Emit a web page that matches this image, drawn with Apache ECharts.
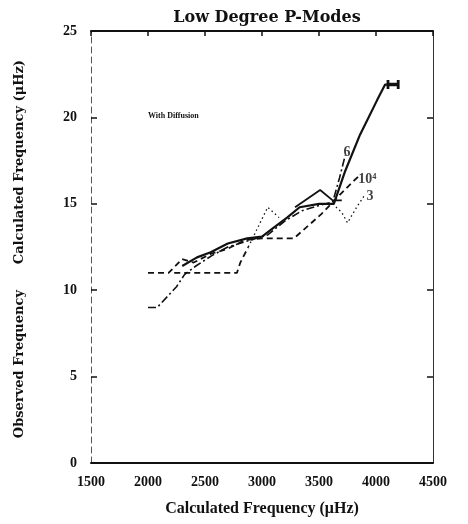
<!DOCTYPE html>
<html><head><meta charset="utf-8">
<script src="https://cdn.jsdelivr.net/npm/echarts@6/dist/echarts.min.js"></script>
<style>html,body{margin:0;padding:0;background:#fff}#c{width:468px;height:524px}</style>
</head><body><div id="c"></div>
<script>
// ---- data ----
const xTickLabels = ['1500','2000','2500','3000','3500','4000','4500'];
const yTickLabels = ['0','5','10','15','20','25'];

// thick solid curve ending with bar marker
const solidMain = [[2300,11.4],[2430,11.9],[2550,12.2],[2700,12.7],[2870,13.0],[3000,13.1],[3100,13.6],[3220,14.2],[3330,14.8],[3500,15.0],[3630,15.0],[3730,16.9],[3860,19.0],[4010,21.0],[4080,21.9],[4150,21.9]];
// thin solid with triangular peak
const solidPeak = [[3290,14.8],[3510,15.8],[3620,15.2],[3700,15.2]];
// dash-dot curve ending at "6"
const dashDot6 = [[2000,9.0],[2080,9.0],[2250,10.2],[2320,10.9],[2420,11.4],[2560,12.0],[2700,12.5],[2900,12.9],[3050,13.2],[3200,14.0],[3350,14.6],[3500,14.9],[3620,15.1],[3680,16.5],[3730,17.8]];
// dashed curve ending near "10^4"
const dashed104 = [[2000,11.0],[2180,11.0],[2300,11.8],[2400,11.6],[2550,12.1],[2700,12.4],[2850,12.9],[3000,13.0],[3150,13.0],[3280,13.0],[3520,14.4],[3650,15.3],[3800,16.3],[3850,16.6]];
// dashed step at 11
const stepDash = [[2230,11.0],[2500,11.0],[2780,11.0],[2810,11.6],[2880,12.5]];
// dotted continuation
const dottedMid = [[2880,12.5],[3050,14.8],[3150,14.2]];
// dotted tail ending at "3"
const dotted3 = [[3620,15.0],[3700,14.5],[3750,13.9],[3830,14.8],[3900,15.5]];

const curveLabels = ['6','10⁴','3'];
const curveLabelPos = [[3745,18.0],[3925,16.4],[3947,15.4]];

// ---- chart ----
const chart = echarts.init(document.getElementById('c'));
const FONT = 'Liberation Serif';
const ink = '#111';
function line(data, type, width){
  return {type:'line', data:data, symbol:'none', silent:true,
    lineStyle:{color:ink, width:width, type:type}, z:3};
}
const mainSeries = line(solidMain,'solid',2.2);
mainSeries.data = solidMain.map((p,i)=> i===solidMain.length-1 ?
  {value:p, symbol:'path://M0,0h3v3h8v-3h3v10h-3v-3h-8v3h-3z', symbolSize:[13,9], itemStyle:{color:ink}} : p);

chart.setOption({
  backgroundColor:'#fff',
  animation:false,
  grid:{left:91, right:35, top:31, bottom:61},
  title:{text:'Low Degree P-Modes', left:262, top:5, textAlign:'center',
    textStyle:{fontFamily:'DejaVu Serif', fontWeight:'bold', fontSize:16, color:ink}},
  xAxis:[{type:'value', min:1500, max:4500, interval:500, position:'bottom',
      axisLine:{lineStyle:{color:ink, width:2}}, axisTick:{show:false}, splitLine:{show:false},
      axisLabel:{margin:12, fontFamily:FONT, fontWeight:'bold', fontSize:14, color:ink,
        formatter:v=>xTickLabels[Math.round((v-1500)/500)]},
      name:'Calculated Frequency (μHz)', nameLocation:'middle', nameGap:38,
      nameTextStyle:{fontFamily:FONT, fontWeight:'bold', fontSize:16, color:ink}},
    {type:'value', min:1500, max:4500, interval:500, position:'top',
      axisLine:{onZero:false, lineStyle:{color:ink, width:2}},
      axisTick:{inside:true, length:5, lineStyle:{color:ink, width:1.5}},
      axisLabel:{show:false}, splitLine:{show:false}}],
  yAxis:[{type:'value', min:0, max:25, interval:5, position:'left',
      axisLine:{show:true, onZero:false, lineStyle:{color:'#555', width:1, type:[6,4]}},
      axisTick:{show:true, inside:true, length:6, lineStyle:{color:ink, width:1.5}},
      splitLine:{show:false},
      axisLabel:{margin:14, fontFamily:FONT, fontWeight:'bold', fontSize:14, color:ink,
        formatter:v=>yTickLabels[Math.round(v/5)]}},
    {type:'value', min:0, max:25, interval:5, position:'right',
      axisLine:{show:true, onZero:false, lineStyle:{color:'#333', width:1}},
      axisTick:{show:true, inside:true, length:6, lineStyle:{color:ink, width:1.5}},
      axisLabel:{show:false}, splitLine:{show:false}}],
  graphic:[
    {type:'text', left:13, top:60, rotation:Math.PI/2,
      style:{text:'Calculated Frequency (μHz)', font:'bold 13px "DejaVu Serif"', fill:ink}},
    {type:'text', left:13, top:290, rotation:Math.PI/2,
      style:{text:'Observed Frequency', font:'bold 13px "DejaVu Serif"', fill:ink}},
    {type:'text', left:148, top:112,
      style:{text:'With Diffusion', font:'bold 8px "Liberation Serif"', fill:ink}}
  ],
  series:[
    mainSeries,
    line(solidPeak,'solid',1.8),
    line(dashDot6,[8,3,2,3],1.6),
    line(dashed104,[6,4],1.8),
    line(stepDash,[6,4],1.8),
    line(dottedMid,[1.5,3],1.3),
    line(dotted3,[1.5,3],1.3),
    {type:'scatter', symbolSize:0, silent:true, z:4,
      data:curveLabelPos.map((p,i)=>({value:p, name:curveLabels[i]})),
      label:{show:true, position:'inside', formatter:p=>p.name,
        fontFamily:FONT, fontWeight:'bold', fontSize:14, color:ink}}
  ]
});
</script></body></html>
